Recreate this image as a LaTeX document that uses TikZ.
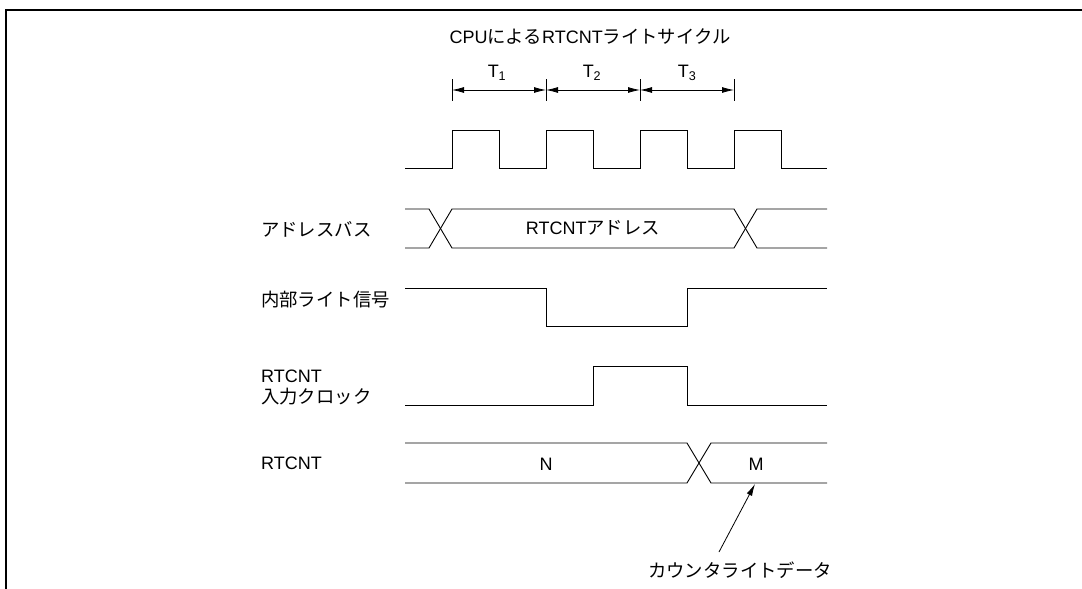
\documentclass[tikz,border=0pt]{standalone}
\usepackage{fontspec}
\setmainfont{Liberation Sans}
\newfontfamily\jp[Scale=1.02]{Noto Sans CJK JP}
\usetikzlibrary{arrows.meta}
\begin{document}
\begin{tikzpicture}[x=1pt,y=-1pt,
  wave/.style={line width=0.9pt, line join=miter},
  lbl/.style={anchor=west, inner sep=0pt, align=left, font=\fontsize{18}{21}\selectfont},
  txt/.style={inner sep=0pt, font=\fontsize{18}{21}\selectfont},
  dimarrow/.style={line width=0.8pt, {Latex[length=12pt,width=6pt]}-{Latex[length=12pt,width=6pt]}},
  tickline/.style={line width=0.6pt},
  callout/.style={line width=0.8pt, -{Latex[length=12pt,width=6pt]}},
]
\useasboundingbox (0,0) rectangle (1082,589);
\draw[line width=2.2pt] (6,589) -- (6,10) -- (1082,10);

% title
\node[txt] (title) at (590,37) {CPU{\jp による}RTCNT{\jp ライトサイクル}};

% T1..T3 dimension arrows
\foreach \x/\n in {452/ta,546/tb,640/tc,734/td}{
  \coordinate (\n) at (\x,90);
  \draw[tickline] (\x,79) -- (\x,101);
}
\draw[dimarrow] (ta) -- (tb);
\draw[dimarrow] (tb) -- (tc);
\draw[dimarrow] (tc) -- (td);
\node[txt] (T1) at (497,73) {T\textsubscript{1}};
\node[txt] (T2) at (592,73) {T\textsubscript{2}};
\node[txt] (T3) at (687,73) {T\textsubscript{3}};

% system clock
\draw[wave] (405,168) -- (452,168) -- (452,130) -- (499,130) -- (499,168) -- (546,168)
  -- (546,130) -- (593,130) -- (593,168) -- (640,168) -- (640,130) -- (687,130)
  -- (687,168) -- (734,168) -- (734,130) -- (781,130) -- (781,168) -- (827,168);

% address bus
\node[lbl] (labaddr) at (261,229) {\jp アドレスバス};
\draw[wave] (405,209) -- (429,209) -- (452,248) -- (734,248) -- (757,209) -- (827,209);
\draw[wave] (405,248) -- (429,248) -- (452,209) -- (734,209) -- (757,248) -- (827,248);
\node[txt] (addr) at (593,228) {RTCNT{\jp アドレス}};

% internal write signal
\node[lbl] (labwr) at (261,300) {\jp 内部ライト信号};
\draw[wave] (405,288) -- (546,288) -- (546,326) -- (687,326) -- (687,288) -- (827,288);

% RTCNT input clock
\node[lbl] (labclk) at (261,387) {RTCNT\\{\jp 入力クロック}};
\draw[wave] (405,405) -- (593,405) -- (593,366) -- (687,366) -- (687,405) -- (827,405);

% RTCNT
\node[lbl] (labcnt) at (261,463) {RTCNT};
\draw[wave] (405,443) -- (687,443) -- (711,483) -- (827,483);
\draw[wave] (405,483) -- (687,483) -- (711,443) -- (827,443);
\node[txt] (valN) at (546,464) {N};
\node[txt] (valM) at (756,464) {M};

% callout
\node[txt] (cw) at (740,570) {\jp カウンタライトデータ};
\coordinate (mtip) at (755,484);
\coordinate (mtail) at (719,552);
\draw[callout] (mtail) -- (mtip);
\end{tikzpicture}
\end{document}
